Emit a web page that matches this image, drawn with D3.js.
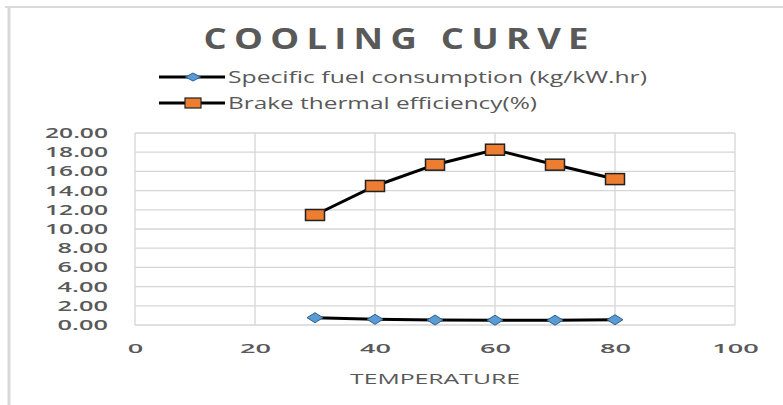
<!DOCTYPE html>
<html>
<head>
<meta charset="utf-8">
<script src="https://cdn.jsdelivr.net/npm/d3@7"></script>
<style>
  body { margin: 0; background: #fff; }
  text { font-family: "Open Sans", "Noto Sans", sans-serif; fill: #595959; }
</style>
</head>
<body>
<div id="chart"></div>
<script>
// data
const temperature = [30, 40, 50, 60, 70, 80];
const sfc = [0.76, 0.59, 0.52, 0.50, 0.50, 0.55];
const bte = [11.46, 14.48, 16.70, 18.26, 16.70, 15.20];
const seriesNames = ["Specific fuel consumption (kg/kW.hr)", "Brake thermal efficiency(%)"];
const xTicks = [0, 20, 40, 60, 80, 100];
const yTicks = [0, 2, 4, 6, 8, 10, 12, 14, 16, 18, 20];

const W = 783, H = 405;

const svg = d3.select("#chart")
  .append("svg")
  .attr("width", W)
  .attr("height", H);

// outer frame (only top & left visible)
svg.append("line").attr("x1", 5).attr("x2", W).attr("y1", 7).attr("y2", 7)
  .attr("stroke", "#d9d9d9").attr("stroke-width", 2);
svg.append("line").attr("x1", 9).attr("x2", 9).attr("y1", 7).attr("y2", H)
  .attr("stroke", "#d9d9d9").attr("stroke-width", 3);

//scales
const xScale = d3.scaleLinear().domain([0, 100]).range([135, 735]);
const yScale = d3.scaleLinear().domain([0, 20]).range([325, 133]);

// gridlines
svg.append("g")
  .selectAll("line")
  .data(yTicks)
  .enter()
  .append("line")
  .attr("x1", xScale(0)).attr("x2", xScale(100))
  .attr("y1", d => yScale(d)).attr("y2", d => yScale(d))
  .attr("stroke", "#d6d6d6").attr("stroke-width", 1.3);
svg.append("g")
  .selectAll("line")
  .data(xTicks)
  .enter()
  .append("line")
  .attr("x1", d => xScale(d)).attr("x2", d => xScale(d))
  .attr("y1", yScale(0)).attr("y2", yScale(20))
  .attr("stroke", "#d6d6d6").attr("stroke-width", 1.3);

// y axis
const yAxis = d3.axisLeft(yScale).tickValues(yTicks).tickSize(0).tickPadding(0)
  .tickFormat(d3.format(".2f"));
const gy = svg.append("g").attr("transform", "translate(108,0)").call(yAxis);
gy.select(".domain").remove();
gy.selectAll("text")
  .attr("font-size", 14)
  .attr("font-family", "Open Sans")
  .attr("font-weight", 600)
  .attr("fill", "#595959")
  .attr("textLength", function() { return this.textContent.length * 12.6; })
  .attr("lengthAdjust", "spacingAndGlyphs");

// x axis
const xAxis = d3.axisBottom(xScale).tickValues(xTicks).tickSize(0).tickPadding(0);
const gx = svg.append("g").attr("transform", "translate(0,344)").call(xAxis);
gx.select(".domain").remove();
gx.selectAll("text")
  .attr("font-size", 13)
  .attr("font-family", "Open Sans")
  .attr("font-weight", 600)
  .attr("fill", "#595959")
  .attr("textLength", function() { return this.textContent.length * 15.5; })
  .attr("lengthAdjust", "spacingAndGlyphs");

// axis title
svg.append("text")
  .attr("x", 435).attr("y", 384)
  .attr("text-anchor", "middle")
  .attr("font-size", 15)
  .attr("textLength", 170).attr("lengthAdjust", "spacingAndGlyphs")
  .text("TEMPERATURE");

// chart title: wide glyphs + letter spacing
svg.append("g")
  .attr("transform", "translate(396,49) scale(1.3,1)")
  .append("text")
  .attr("text-anchor", "middle")
  .attr("font-size", 28)
  .attr("font-weight", 700)
  .attr("textLength", 385 / 1.3).attr("lengthAdjust", "spacing")
  .text("COOLING CURVE");

const line = d3.line()
  .x((d, i) => xScale(temperature[i]))
  .y(d => yScale(d));

const diamond = (cx, cy, w, h) =>
  `M${cx - w / 2},${cy}L${cx},${cy - h / 2}L${cx + w / 2},${cy}L${cx},${cy + h / 2}Z`;

// lines
[sfc, bte].forEach(s => {
  svg.append("path")
    .datum(s)
    .attr("d", line)
    .attr("fill", "none")
    .attr("stroke", "#000")
    .attr("stroke-width", 3);
});

// sfc markers
svg.selectAll(".dia")
  .data(sfc)
  .enter()
  .append("path")
  .attr("class", "dia")
  .attr("d", (d, i) => diamond(xScale(temperature[i]), yScale(d), 16, 10))
  .attr("fill", "#5b9bd5")
  .attr("stroke", "#2e5f8a")
  .attr("stroke-width", 1);

// bte markers
svg.selectAll(".sq")
  .data(bte)
  .enter()
  .append("rect")
  .attr("class", "sq")
  .attr("x", (d, i) => xScale(temperature[i]) - 9.5)
  .attr("y", d => yScale(d) - 5.5)
  .attr("width", 19)
  .attr("height", 11)
  .attr("fill", "#ed7d31")
  .attr("stroke", "#222")
  .attr("stroke-width", 1.5);

// legend
const legY = [77, 103];
const legText = [419, 309];
seriesNames.forEach((name, i) => {
  const g = svg.append("g");
  g.append("line")
    .attr("x1", 159).attr("x2", 225)
    .attr("y1", legY[i]).attr("y2", legY[i])
    .attr("stroke", "#000").attr("stroke-width", 3);
  if (i === 0) {
    g.append("path")
      .attr("d", diamond(193, legY[i], 15, 8))
      .attr("fill", "#5b9bd5").attr("stroke", "#2e5f8a");
  } else {
    g.append("rect")
      .attr("x", 185).attr("y", legY[i] - 5)
      .attr("width", 16).attr("height", 10)
      .attr("fill", "#ed7d31").attr("stroke", "#222").attr("stroke-width", 1.2);
  }
  g.append("text")
    .attr("x", 228).attr("y", legY[i] + 6)
    .attr("font-size", 16)
    .attr("textLength", legText[i]).attr("lengthAdjust", "spacingAndGlyphs")
    .text(name);
});
</script>
</body>
</html>
